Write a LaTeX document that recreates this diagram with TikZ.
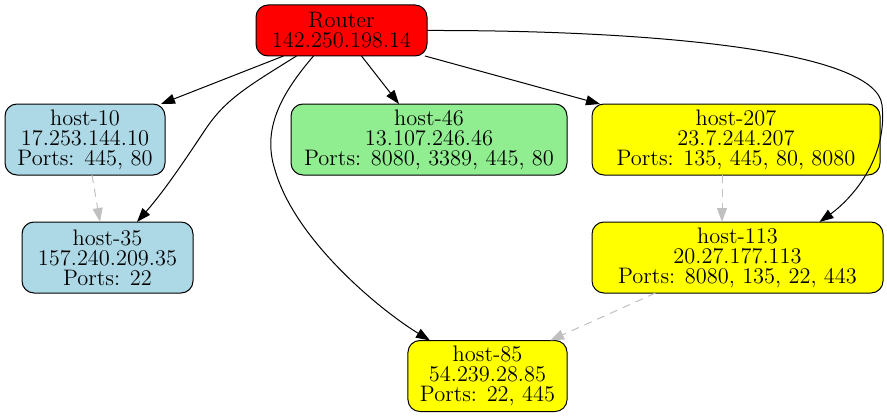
\documentclass[tikz,border=0pt]{standalone}
\usetikzlibrary{positioning}
\usetikzlibrary{arrows.meta}

\definecolor{lightblue}{HTML}{ADD8E6}
\definecolor{lightgreen}{HTML}{90EE90}
\definecolor{hostyellow}{HTML}{FFFF00}
\definecolor{routerred}{HTML}{FF0000}
\definecolor{weakgray}{HTML}{C0C0C0}

\begin{document}
\begin{tikzpicture}[x=0.5pt,y=-0.5pt,>={Triangle[length=7pt,width=5pt]},
                    box/.style={draw,rounded corners=6pt,align=center,inner xsep=6pt,
                                inner ysep=0pt,outer sep=0pt,line width=0.5pt,
                                font=\fontsize{11.2}{10}\selectfont,minimum height=35.5pt},
                    link/.style={->,black,line width=0.5pt},
                    weak/.style={->,weakgray,line width=0.5pt,dash pattern=on 4pt off 3pt}]

  \useasboundingbox (0,0) rectangle (887,417);

  \node[box,fill=routerred,minimum height=25.5pt,minimum width=85.5pt] (router) at (341.5,30.5)
        {Router\\142.250.198.14};

  \node[box,fill=lightblue,minimum width=80pt]    (h10)  at (85,139.5)
        {host-10\\17.253.144.10\\Ports: 445, 80};
  \node[box,fill=lightgreen,minimum width=138pt]  (h46)  at (429,139.5)
        {host-46\\13.107.246.46\\Ports: 8080, 3389, 445, 80};
  \node[box,fill=hostyellow,minimum width=144pt]  (h207) at (736,139.5)
        {host-207\\23.7.244.207\\Ports: 135, 445, 80, 8080};
  \node[box,fill=lightblue,minimum width=85.5pt]  (h35)  at (107.5,257.5)
        {host-35\\157.240.209.35\\Ports: 22};
  \node[box,fill=hostyellow,minimum width=145.5pt] (h113) at (737.5,257.5)
        {host-113\\20.27.177.113\\Ports: 8080, 135, 22, 443};
  \node[box,fill=hostyellow,minimum width=77.5pt] (h85)  at (487.5,376)
        {host-85\\54.239.28.85\\Ports: 22, 445};

  % router links
  \draw[link] ([xshift=-29pt]router.south) -- ([xshift=-2pt]h10.north east);
  \draw[link] ([xshift=-22.5pt]router.south) .. controls (245,88) and (225,100) .. (205,130)
              .. controls (185,160) and (165,190) .. ([xshift=14.75pt]h35.north);
  \draw[link] ([xshift=10pt]router.south) -- ([xshift=-15pt]h46.north);
  \draw[link] ([xshift=-14pt]router.south) .. controls (280,95) and (262,130) .. (275,170)
              .. controls (295,240) and (380,310) .. ([xshift=-28.75pt]h85.north);
  \draw[link] ([xshift=-1pt]router.south east) -- ([xshift=4pt]h207.north west);
  \draw[link] (router.east) .. controls (650,30) and (876,50) .. (882,105)
              .. controls (888,160) and (850,200) .. ([xshift=41pt]h113.north);

  % host links
  \draw[weak] ([xshift=3.5pt]h10.south) -- ([xshift=-3.75pt]h35.north);
  \draw[weak] ([xshift=-7pt]h207.south) -- ([xshift=-7.75pt]h113.north);
  \draw[weak] ([xshift=-41pt]h113.south) -- ([xshift=31.25pt]h85.north);
\end{tikzpicture}
\end{document}
